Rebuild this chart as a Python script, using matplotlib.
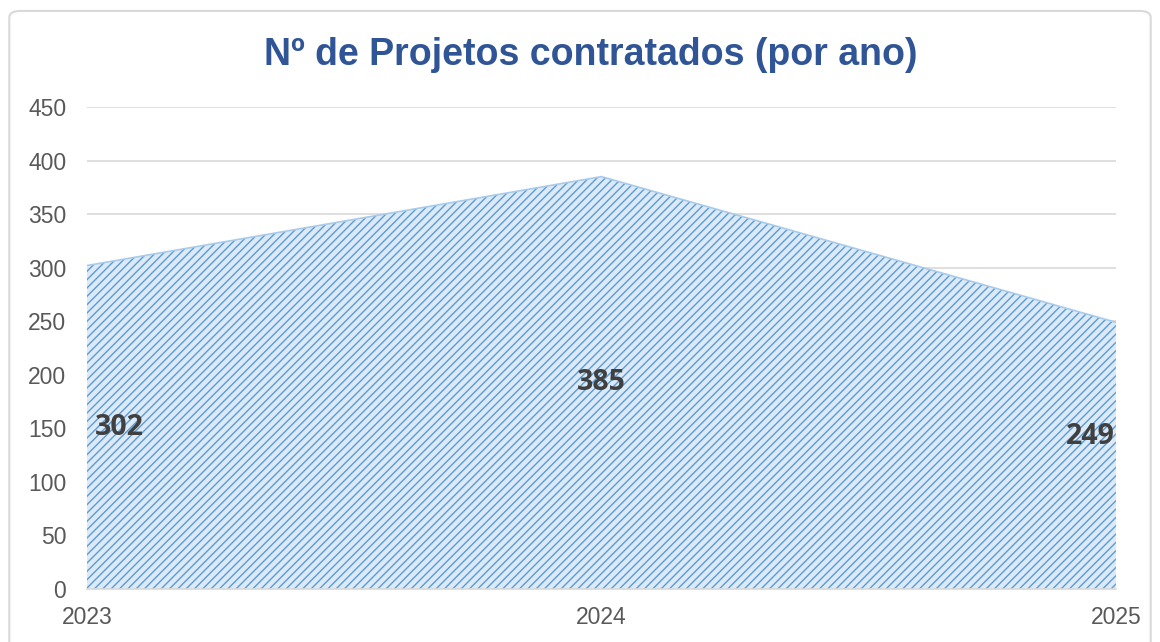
import matplotlib
matplotlib.use("Agg")
import matplotlib.pyplot as plt
from matplotlib.patches import FancyBboxPatch

years = ["2023", "2024", "2025"]
values = [302, 385, 249]
yticks = [0, 50, 100, 150, 200, 250, 300, 350, 400, 450]
title = "Nº de Projetos contratados (por ano)"

plt.rcParams['font.family'] = ['Liberation Sans', 'DejaVu Sans']
plt.rcParams['hatch.linewidth'] = 1.0
plt.rcParams['hatch.color'] = '#5B9BD5'

fig = plt.figure(figsize=(11.6, 6.42), dpi=100)
ax = fig.add_axes([0.075, 0.0826, 0.887, 0.7507])

x = list(range(len(years)))
ax.fill_between(x, values, 0, facecolor='#DCEAF7', edgecolor='#5B9BD5',
                hatch='////', linewidth=0, zorder=2)
ax.plot(x, values, color='#A9CBEA', lw=1.2, zorder=3)

ax.set_xlim(0, len(years) - 1)
ax.set_ylim(0, 450)
ax.set_yticks(yticks)
ax.set_xticks(x)
ax.set_xticklabels(years)
ax.tick_params(axis='both', length=0, labelsize=16.5, colors='#595959')
ax.tick_params(axis='y', pad=15)
ax.tick_params(axis='x', pad=12)
ax.grid(axis='y', color='#D9D9D9', lw=1.2, zorder=0)
ax.set_axisbelow(True)
for s in ['top', 'right', 'left']:
    ax.spines[s].set_visible(False)
ax.spines['bottom'].set_color('#D9D9D9')
ax.spines['bottom'].set_linewidth(1.2)
ax.spines['bottom'].set_zorder(4)

labfont = dict(fontsize=20.5, fontweight='bold', color='#404040',
               family=['Open Sans', 'DejaVu Sans'], zorder=5)
aligns = ['left', 'center', 'right']
xoffs = [0.015, 0, -0.003]
yfrac = [0.5, 0.5, 0.57]
for i, v in enumerate(values):
    ax.text(i + xoffs[i], v * yfrac[i], str(v), ha=aligns[i], va='center', **labfont)

fig.text(0.509, 0.915, title, ha='center', va='center', fontsize=27,
         fontweight='bold', color='#2F5597')

border = FancyBboxPatch((0.008, -0.05), 0.984, 1.033, boxstyle='round,pad=0,rounding_size=0.01',
                        transform=fig.transFigure, facecolor='none', edgecolor='#D9D9D9', lw=1.5)
fig.patches.append(border)

fig.savefig('out.png', dpi=100)
